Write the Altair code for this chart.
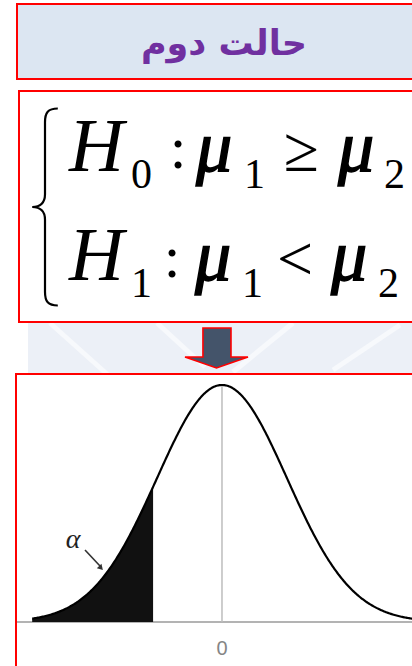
import altair as alt
import numpy as np
import pandas as pd

# ---- text content -------------------------------------------------------
TITLE = "حالت دوم"
H0_TOKENS = ["H", "0", ":", "μ", "1", "≥", "μ", "2"]
H1_TOKENS = ["H", "1", ":", "μ", "1", "<", "μ", "2"]
TICK_LABEL = "0"
ALPHA_LABEL = "α"

# ---- distribution parameters -------------------------------------------
MEAN = 0.0
SD = 1.0
Z_LEFT, Z_RIGHT = -2.92, 2.95
Z_CUT = -1.06                      # edge of the left-tail rejection region
X_DOMAIN = [-3.415, 2.923]
Y_DOMAIN = [-0.0741, 1.047]

W, H = 412, 666

z = np.linspace(Z_LEFT, Z_RIGHT, 400)
z = np.sort(np.append(z, Z_CUT))
density = np.exp(-0.5 * ((z - MEAN) / SD) ** 2) / (SD * np.sqrt(2 * np.pi))
curve_df = pd.DataFrame({"z": z, "density": density, "base": 0.0})
shade_df = curve_df[curve_df["z"] <= Z_CUT + 1e-9]
peak = float(density.max())

one = pd.DataFrame({"k": [0]})
xs = alt.Scale(domain=X_DOMAIN, nice=False, zero=False)
ys = alt.Scale(domain=Y_DOMAIN, nice=False, zero=False)
X = alt.X("z:Q", scale=xs, axis=None)
Y = alt.Y("density:Q", scale=ys, axis=None)


def box(x, y, x2, y2, fill, stroke=None, sw=2):
    kw = dict(fill=fill, strokeWidth=sw)
    if stroke:
        kw["stroke"] = stroke
    return alt.Chart(one).mark_rect(**kw).encode(
        x=alt.value(x), x2=alt.value(x2), y=alt.value(y), y2=alt.value(y2))


def seg(x, y, x2, y2, color, sw):
    return alt.Chart(one).mark_rule(color=color, strokeWidth=sw).encode(
        x=alt.value(x), x2=alt.value(x2), y=alt.value(y), y2=alt.value(y2))


def label(s, x, y, size, font="Liberation Serif", style="normal",
          weight="normal", align="left", color="black", thicken=0):
    kw = dict(font=font, fontSize=size, fontStyle=style, fontWeight=weight,
              align=align, baseline="alphabetic", color=color)
    if thicken:
        kw.update(stroke=color, strokeWidth=thicken)
    return alt.Chart(pd.DataFrame({"t": [s]})).mark_text(**kw).encode(
        x=alt.value(x), y=alt.value(y), text="t:N")


def hypothesis(tokens, base, xs_):
    h, hsub, colon, mu1, sub1, rel, mu2, sub2 = tokens
    hx, subx, colx, mux, s1x, relx, mu2x, s2x = xs_
    return [
        label(h, hx, base, 76, style="italic"),
        label(hsub, subx, base + 17, 42),
        label(colon, colx, base - 3, 60, align="center"),
        label(mu1, mux, base, 72, style="italic", thicken=1.5),
        label(sub1, s1x, base + 17, 42),
        label(rel, relx, base, 64, align="center"),
        label(mu2, mu2x, base, 72, style="italic", thicken=1.5),
        label(sub2, s2x, base + 17, 42),
    ]


layers = []

# faint watermark between the boxes
layers.append(box(28, 323, 420, 373, "#ECF0F7", sw=0))
for (a, b, c, d) in [(50, 323, 108, 375), (157, 323, 205, 367),
                     (233, 372, 293, 323), (333, 370, 400, 325)]:
    layers.append(seg(a, b, c, d, "#F7F9FC", 5))

# title banner
layers.append(box(17, 4, 430, 79, "#DCE6F2", "#FF0000"))
layers.append(label(TITLE, 224, 55, 35, font="DejaVu Sans", weight="bold",
                    align="center", color="#7030A0"))

# hypotheses panel
layers.append(box(19, 91, 430, 322, "white", "#FF0000"))
brace = ("M 0.13 -1 C 0.03 -1 0 -0.96 0 -0.86 L 0 -0.13 C 0 -0.04 -0.05 0 "
         "-0.13 0 C -0.05 0 0 0.04 0 0.13 L 0 0.86 C 0 0.96 0.03 1 0.13 1")
layers.append(alt.Chart(one).mark_point(
    shape=brace, size=197 ** 2, filled=False, stroke="black",
    strokeWidth=2.2, opacity=1).encode(x=alt.value(45), y=alt.value(207)))
layers += hypothesis(H0_TOKENS, 171, [69, 131, 178, 196, 244, 301, 338, 384])
layers += hypothesis(H1_TOKENS, 280, [69, 131, 172, 195, 242, 295, 331, 378])

# down arrow
arrow = ("M -0.43 -0.635 L 0.46 -0.635 L 0.46 0.286 L 1 0.286 L 0 0.635 "
         "L -1 0.286 L -0.43 0.286 Z")
layers.append(alt.Chart(one).mark_point(
    shape=arrow, size=63 ** 2, filled=True, fill="#44546A", stroke="#FF0000",
    strokeWidth=1.6, opacity=1).encode(x=alt.value(216.5), y=alt.value(348)))

# distribution panel
layers.append(box(16, 374, 430, 690, "white", "#FF0000"))
baseline_df = pd.DataFrame({"density": [0.0]})
layers.append(alt.Chart(baseline_df).mark_rule(
    color="#9A9A9A", strokeWidth=1.5).encode(
    x=alt.value(17), x2=alt.value(W), y=Y))
center_df = pd.DataFrame({"z": [MEAN], "density": [peak], "base": [0.0]})
layers.append(alt.Chart(center_df).mark_rule(
    color="#BDBDBD", strokeWidth=1.5).encode(x=X, y=Y, y2="base:Q"))
layers.append(alt.Chart(shade_df).mark_area(color="#111111").encode(
    x=X, y=Y, y2="base:Q"))
layers.append(alt.Chart(curve_df).mark_line(color="black", strokeWidth=2.2).encode(
    x=X, y=Y))
layers.append(alt.Chart(pd.DataFrame({"z": [MEAN], "t": [TICK_LABEL]})).mark_text(
    font="Liberation Sans", fontSize=20, color="#858585", baseline="alphabetic",
).encode(x=X, y=alt.value(655), text="t:N"))

# alpha annotation
layers.append(label(ALPHA_LABEL, 73, 548, 28, style="italic", align="center",
                    color="#222222"))
layers.append(seg(85, 550, 100, 566, "#333333", 1.6))
layers.append(alt.Chart(one).mark_point(
    shape="triangle-up", size=40, filled=True, color="#333333", opacity=1,
    angle=137).encode(x=alt.value(101), y=alt.value(568)))

chart = alt.layer(*layers).properties(
    width=W, height=H, padding=0, autosize=alt.AutoSizeParams(type="none"),
    background="white",
).configure_view(stroke=None)

chart.save("out.html", embed_options={"renderer": "svg", "actions": False})
